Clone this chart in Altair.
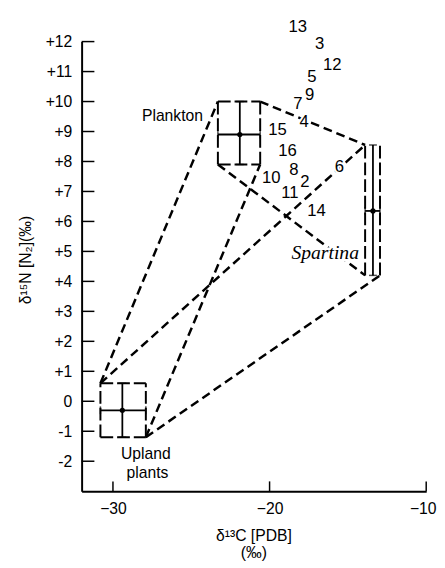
import altair as alt
import pandas as pd

# ---- data (δ13C ‰ on x, δ15N ‰ on y) ----
source_names = ["Plankton", "Spartina", "Upland plants"]
src_x = [-21.9, -13.4, -29.4]
src_y = [8.9, 6.35, -0.3]
src_x_lo = [-23.3, -13.9, -30.8]
src_x_hi = [-20.6, -12.95, -27.9]
src_y_lo = [7.9, 4.2, -1.2]
src_y_hi = [10.0, 8.55, 0.6]

sample_ids = ["13", "3", "12", "5", "9", "7", "4", "15", "16", "8", "2", "10", "11", "6", "14"]
sample_x = [-18.2, -16.8, -16.0, -17.3, -17.45, -18.2, -17.8, -19.5, -18.85, -18.45, -17.75, -19.9, -18.7, -15.55, -17.0]
sample_y = [12.5, 11.9, 11.2, 10.8, 10.2, 9.9, 9.3, 9.05, 8.35, 7.72, 7.3, 7.45, 6.95, 7.8, 6.35]

right_text = ["Plankton"]
right_x = [-24.25]
right_y = [9.5]
center_text = ["Upland", "plants"]
center_x = [-27.9, -27.8]
center_y = [-1.75, -2.4]
italic_text = ["Spartina"]
italic_x = [-16.45]
italic_y = [4.95]

# mixing-polygon links: (source, x corner, y corner) -> (source, x corner, y corner)
mix_links = [
    ("Upland plants", "lo", "hi", "Plankton", "lo", "hi"),
    ("Upland plants", "lo", "hi", "Spartina", "lo", "hi"),
    ("Upland plants", "hi", "lo", "Plankton", "hi", "lo"),
    ("Upland plants", "hi", "lo", "Spartina", "hi", "lo"),
    ("Plankton", "hi", "hi", "Spartina", "lo", "hi"),
    ("Plankton", "lo", "lo", "Spartina", "lo", "lo"),
]

x_ticks = [-30, -20, -10]
y_ticks = list(range(-2, 13))

# ---- tables built from the arrays ----
src = pd.DataFrame({"name": source_names, "x": src_x, "y": src_y,
                    "xlo": src_x_lo, "xhi": src_x_hi, "ylo": src_y_lo, "yhi": src_y_hi})
idx = {n: i for i, n in enumerate(source_names)}

def corner(name, cx, cy):
    i = idx[name]
    xv = src_x_lo[i] if cx == "lo" else src_x_hi[i]
    yv = src_y_lo[i] if cy == "lo" else src_y_hi[i]
    return xv, yv

links = []
for a, ax_, ay_, b, bx_, by_ in mix_links:
    x1, y1 = corner(a, ax_, ay_)
    x2, y2 = corner(b, bx_, by_)
    links.append({"x": x1, "y": y1, "x2": x2, "y2": y2})
links = pd.DataFrame(links)

edges = []
for i, n in enumerate(source_names):
    edges.append({"x": src_x_lo[i], "y": src_y_lo[i], "x2": src_x_lo[i], "y2": src_y_hi[i]})
    edges.append({"x": src_x_hi[i], "y": src_y_lo[i], "x2": src_x_hi[i], "y2": src_y_hi[i]})
    if n != "Spartina":
        edges.append({"x": src_x_lo[i], "y": src_y_lo[i], "x2": src_x_hi[i], "y2": src_y_lo[i]})
        edges.append({"x": src_x_lo[i], "y": src_y_hi[i], "x2": src_x_hi[i], "y2": src_y_hi[i]})
edges = pd.DataFrame(edges)

samples = pd.DataFrame({"t": sample_ids, "x": sample_x, "y": sample_y})
rlabels = pd.DataFrame({"t": right_text, "x": right_x, "y": right_y})
clabels = pd.DataFrame({"t": center_text, "x": center_x, "y": center_y})
italics = pd.DataFrame({"t": italic_text, "x": italic_x, "y": italic_y})

W, H = 351, 458
xs = alt.Scale(domain=[-32, -10], nice=False, zero=False)
ys = alt.Scale(domain=[-3, 12], nice=False, zero=False)

xaxis = alt.Axis(values=x_ticks, tickSize=0, ticks=False, grid=False, domainColor="black",
                 domainWidth=2, labelFontSize=16, labelColor="black", labelPadding=10,
                 labelFont="Liberation Sans", labelFlush=True, labelFlushOffset=10,
                 title=["δ¹³C [PDB]", "(‰)"], titleFontSize=16, titleFontWeight="normal",
                 titleFont="Liberation Sans", titleColor="black",
                 titleX=175, titleY=50, titleAlign="center", titleBaseline="alphabetic",
                 titleLineHeight=18)
yaxis = alt.Axis(values=y_ticks, tickSize=0, ticks=False, grid=False, domainColor="black",
                 domainWidth=2, labelFontSize=16, labelColor="black", labelPadding=10,
                 labelFont="Liberation Sans", labelFlush=False,
                 labelExpr="datum.value > 0 ? '+' + datum.value : (datum.value < 0 ? '-' + (-datum.value) : '0')",
                 title="δ¹⁵N [N₂](‰)", titleFontSize=16, titleFontWeight="normal",
                 titleFont="Liberation Sans", titleColor="black",
                 titleX=-57, titleY=222, titleAngle=270, titleAlign="center", titleBaseline="middle")

def XY(xf="x:Q", yf="y:Q"):
    return dict(x=alt.X(xf, scale=xs, axis=xaxis), y=alt.Y(yf, scale=ys, axis=yaxis))

ytick_layer = alt.Chart(pd.DataFrame({"v": y_ticks})).mark_rule(color="black", strokeWidth=1.5).encode(
    y=alt.Y("v:Q", scale=ys, axis=yaxis), x=alt.value(0), x2=alt.value(13))
xtick_layer = alt.Chart(pd.DataFrame({"v": x_ticks})).mark_rule(color="black", strokeWidth=1.5).encode(
    x=alt.X("v:Q", scale=xs, axis=xaxis), y=alt.value(H), y2=alt.value(H - 10))

link_layer = alt.Chart(links).mark_rule(color="black", strokeWidth=2.5, strokeDash=[9, 5]).encode(
    **XY(), x2="x2:Q", y2="y2:Q")
edge_layer = alt.Chart(edges).mark_rule(color="black", strokeWidth=2, strokeDash=[13, 4]).encode(
    **XY(), x2="x2:Q", y2="y2:Q")
vbar = alt.Chart(src).mark_rule(color="black", strokeWidth=1.8).encode(**XY("x:Q", "ylo:Q"), y2="yhi:Q")
hbar = alt.Chart(src).mark_rule(color="black", strokeWidth=1.8).encode(**XY("xlo:Q", "y:Q"), x2="xhi:Q")
cap_top = alt.Chart(src).mark_tick(color="black", orient="horizontal", size=8, thickness=1.5).encode(**XY("x:Q", "yhi:Q"))
cap_bot = alt.Chart(src).mark_tick(color="black", orient="horizontal", size=8, thickness=1.5).encode(**XY("x:Q", "ylo:Q"))
cap_l = alt.Chart(src).mark_tick(color="black", orient="vertical", size=8, thickness=1.5).encode(**XY("xlo:Q", "y:Q"))
cap_r = alt.Chart(src).mark_tick(color="black", orient="vertical", size=8, thickness=1.5).encode(**XY("xhi:Q", "y:Q"))
dots = alt.Chart(src).mark_circle(color="black", size=28, opacity=1).encode(**XY())

# white halos under the texts so that the dashed lines break around them, as in the figure
sample_halo = alt.Chart(samples).mark_text(font="Liberation Sans", fontSize=17, color="white",
                                           stroke="white", strokeWidth=4, align="center",
                                           baseline="middle").encode(**XY(), text="t:N")
sample_layer = alt.Chart(samples).mark_text(font="Liberation Sans", fontSize=17, color="black",
                                            align="center", baseline="middle").encode(**XY(), text="t:N")
rlabel_layer = alt.Chart(rlabels).mark_text(font="Liberation Sans", fontSize=16, color="black",
                                            align="right", baseline="middle").encode(**XY(), text="t:N")
clabel_layer = alt.Chart(clabels).mark_text(font="Liberation Sans", fontSize=16, color="black",
                                            align="center", baseline="middle").encode(**XY(), text="t:N")
ital_halo = alt.Chart(italics).mark_text(font="Liberation Serif", fontSize=20, fontStyle="italic",
                                         color="white", stroke="white", strokeWidth=5,
                                         align="center", baseline="middle").encode(**XY(), text="t:N")
ital_layer = alt.Chart(italics).mark_text(font="Liberation Serif", fontSize=20, fontStyle="italic",
                                          color="black", align="center", baseline="middle").encode(**XY(), text="t:N")

chart = alt.layer(
    ytick_layer, xtick_layer, link_layer, edge_layer, vbar, hbar,
    cap_top, cap_bot, cap_l, cap_r, dots, sample_halo, sample_layer, rlabel_layer, clabel_layer,
    ital_halo, ital_layer
).properties(
    width=W, height=H,
    autosize=alt.AutoSizeParams(type="none"),
    padding={"left": 75, "top": 29, "right": 11, "bottom": 72},
    background="white",
).configure_view(stroke=None)

chart.save("out.html", embed_options={"renderer": "svg", "actions": False})
